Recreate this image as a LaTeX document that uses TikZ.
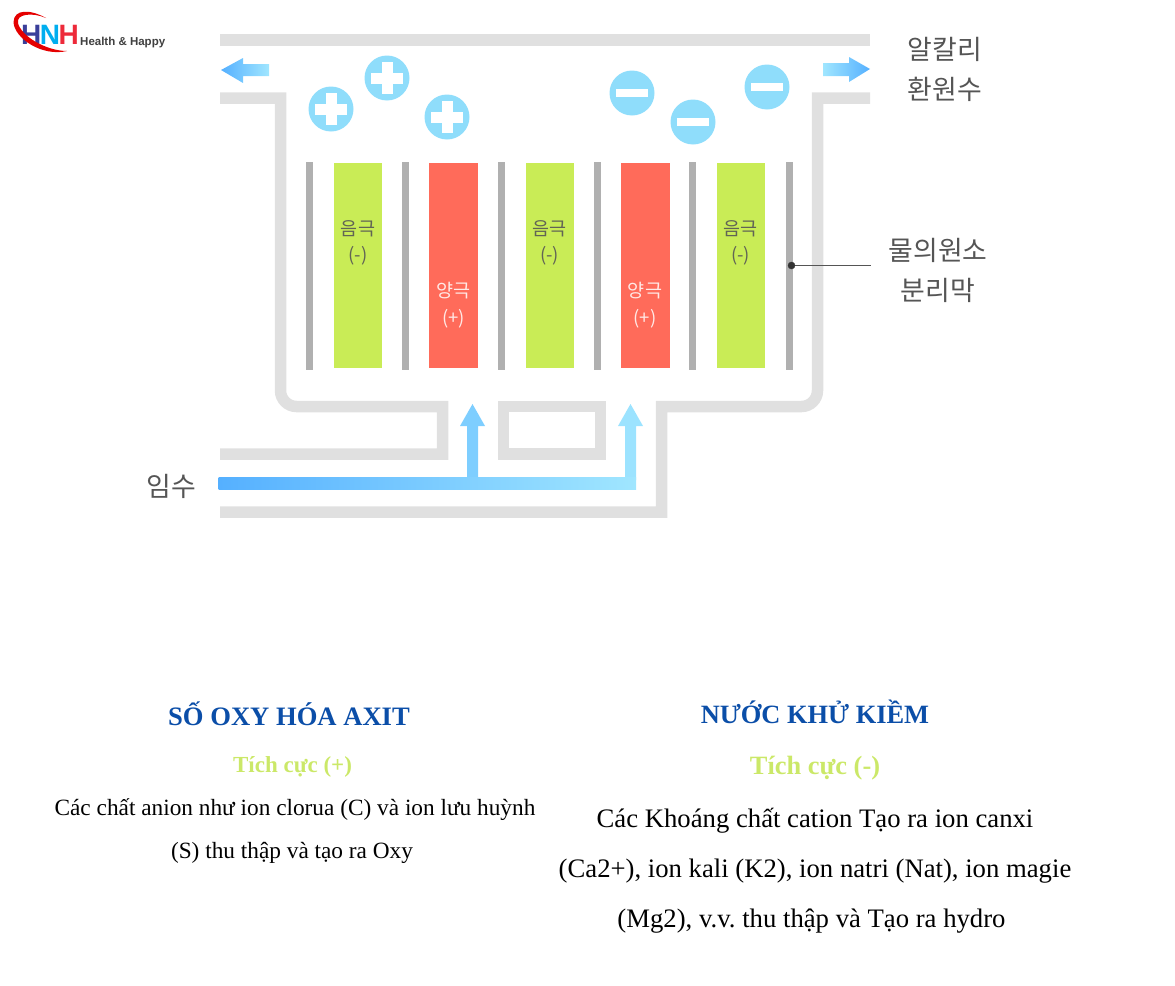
\documentclass[tikz,border=0pt]{standalone}
\usepackage{fontspec}
\setmainfont{Liberation Serif}
\newfontfamily\hangul{Noto Sans CJK KR}
\newfontfamily\logofont{Liberation Sans}
\definecolor{wallgray}{HTML}{E0E0E0}
\definecolor{membgray}{HTML}{B0B0B0}
\definecolor{cathgreen}{HTML}{C9EC56}
\definecolor{anodered}{HTML}{FF6B5A}
\definecolor{ionblue}{HTML}{8FDDFB}
\definecolor{flowdark}{HTML}{55B0FF}
\definecolor{flowlight}{HTML}{A0E6FF}
\definecolor{titleblue}{HTML}{0B4EA8}
\definecolor{chargegreen}{HTML}{CBE868}
\definecolor{labelgray}{HTML}{555555}
\tikzset{
  wall/.style={draw=wallgray, line width=11.5pt},
  membrane/.style={fill=membgray, minimum width=7pt, minimum height=208pt, inner sep=0pt},
  cathode/.style={fill=cathgreen, minimum width=48pt, minimum height=205pt, inner sep=0pt},
  anode/.style={fill=anodered, minimum width=49pt, minimum height=205pt, inner sep=0pt},
  ionplus/.style={circle, fill=ionblue, minimum size=45pt, inner sep=0pt, path picture={
    \fill[white] ([xshift=-16pt,yshift=-5.5pt]path picture bounding box.center) rectangle ([xshift=16pt,yshift=5.5pt]path picture bounding box.center);
    \fill[white] ([xshift=-5.5pt,yshift=-16pt]path picture bounding box.center) rectangle ([xshift=5.5pt,yshift=16pt]path picture bounding box.center);}},
  ionminus/.style={circle, fill=ionblue, minimum size=45pt, inner sep=0pt, path picture={
    \fill[white] ([xshift=-16pt,yshift=-4pt]path picture bounding box.center) rectangle ([xshift=16pt,yshift=4pt]path picture bounding box.center);}},
  sidelabel/.style={font=\hangul\fontsize{26.9}{26.9}\selectfont, text=labelgray, inner sep=0pt},
  polelabel/.style={font=\hangul\fontsize{18.5}{18.5}\selectfont, inner sep=0pt},
  headline/.style={font=\bfseries\fontsize{#1}{#1}\selectfont, text=titleblue, inner sep=0pt, anchor=base},
  chargeline/.style={font=\bfseries\fontsize{#1}{#1}\selectfont, text=chargegreen, inner sep=0pt, anchor=base},
  bodyline/.style={font=\frenchspacing\fontsize{#1}{#1}\selectfont, text=black, inner sep=0pt, anchor=base}
}

\begin{document}
\begin{tikzpicture}[x=1pt, y=-1pt]
    \useasboundingbox (0,0) rectangle (1175,985);

    % Thành bể
    \draw[wall] (220,40) -- (870,40);
    \draw[wall] (220,98) -- (280.5,98) [rounded corners=16pt] -- (280.5,406.5) [sharp corners] -- (442.5,406.5) -- (442.5,454) -- (220,454);
    \draw[wall] (870,98) -- (817.5,98) [rounded corners=16pt] -- (817.5,406.5) [sharp corners] -- (661.5,406.5) -- (661.5,512) -- (220,512);
    \draw[wall] (503.5,406.5) rectangle (600.5,454);

    % Màng ngăn
    \node[membrane] (memb1) at (309.5,266) {};
    \node[membrane] (memb2) at (405.5,266) {};
    \node[membrane] (memb3) at (501.5,266) {};
    \node[membrane] (memb4) at (597.5,266) {};
    \node[membrane] (memb5) at (692.5,266) {};
    \node[membrane] (memb6) at (789,266) {};

    % Điện cực
    \node[cathode] (cath1) at (358,265.5) {};
    \node[anode] (anod1) at (453.5,265.5) {};
    \node[cathode] (cath2) at (549.5,265.5) {};
    \node[anode] (anod2) at (645,265.5) {};
    \node[cathode] (cath3) at (740.5,265.5) {};

    % Nhãn điện cực
    \node[polelabel, text=labelgray!90!cathgreen] (cathtext1) at (358,229) {음극};
    \node[polelabel, text=labelgray!90!cathgreen] (cathsign1) at (358,256) {(-)};
    \node[polelabel, text=labelgray!90!cathgreen] (cathtext2) at (549.5,229) {음극};
    \node[polelabel, text=labelgray!90!cathgreen] (cathsign2) at (549.5,256) {(-)};
    \node[polelabel, text=labelgray!90!cathgreen] (cathtext3) at (740.5,229) {음극};
    \node[polelabel, text=labelgray!90!cathgreen] (cathsign3) at (740.5,256) {(-)};
    \node[polelabel, text=white!85!anodered] (anodtext1) at (453.5,291) {양극};
    \node[polelabel, text=white!85!anodered] (anodsign1) at (453.5,319) {(+)};
    \node[polelabel, text=white!85!anodered] (anodtext2) at (645,291) {양극};
    \node[polelabel, text=white!85!anodered] (anodsign2) at (645,319) {(+)};

    % Ion
    \node[ionplus] (plus1) at (331,109) {};
    \node[ionplus] (plus2) at (387,78) {};
    \node[ionplus] (plus3) at (447,117) {};
    \node[ionminus] (minus1) at (632,93) {};
    \node[ionminus] (minus2) at (693,122) {};
    \node[ionminus] (minus3) at (767,87) {};

    % Mũi tên dòng nước
    \shade[left color=flowdark, right color=flowlight] (221,70) -- (243,58) -- (243,64) -- (269,64) -- (269,76) -- (243,76) -- (243,83) -- cycle;
    \shade[left color=flowlight, right color=flowdark] (870,69) -- (849,57) -- (849,63) -- (823,63) -- (823,76) -- (849,76) -- (849,82) -- cycle;
    \fill[flowdark!45!flowlight] (467,480) -- (467,426) -- (460,426) -- (472.5,404) -- (485,426) -- (478,426) -- (478,480) -- cycle;
    \fill[flowlight!95!flowdark] (625,480) -- (625,426) -- (618,426) -- (630.5,404) -- (643,426) -- (636,426) -- (636,480) -- cycle;
    \shade[left color=flowdark, right color=flowlight] (218.5,477) rectangle (636,489);

    % Nhãn bên
    \node[sidelabel] (outlabel1) at (945,49.5) {알칼리};
    \node[sidelabel] (outlabel2) at (945,89.5) {환원수};
    \node[sidelabel] (memblabel1) at (938,250) {물의원소};
    \node[sidelabel] (memblabel2) at (938,290) {분리막};
    \node[sidelabel] (inlabel) at (171.5,486) {임수};

    % Đường dẫn màng
    \coordinate (leaderend) at (871,265.5);
    \coordinate (leaderdot) at (791.5,265.5);
    \draw[labelgray, line width=0.7pt] (leaderdot) -- (leaderend);
    \filldraw[black!80] (leaderdot) circle (3.5pt);

    % Logo
    \node[font=\logofont\bfseries\fontsize{28}{28}\selectfont, inner sep=0pt, anchor=base west] (logoname) at (21,44.5) {{\color[HTML]{3A3F9A}H}\kern-1.5pt{\color[HTML]{00AEEF}N}\kern-1.5pt{\color[HTML]{ED2A3A}H}};
    \node[font=\logofont\bfseries\fontsize{11.5}{11.5}\selectfont, text=black!75, inner sep=0pt, anchor=base west] (logotext) at (80,45) {Health \& Happy};
    \fill[red!90!black] (46,18) .. controls (30,9) and (14,9) .. (13.5,22) .. controls (14,38) and (42,57) .. (67,51) .. controls (46,51) and (21,36) .. (18,23) .. controls (16,14) and (32,12) .. (46,18);

    % Phần chữ bên trái
    \node[headline=26.6] (lefthead) at (289,725.5) {SỐ OXY HÓA AXIT};
    \node[chargeline=23] (leftcharge) at (292.5,772) {Tích cực (+)};
    \node[bodyline=23.3] (leftbody1) at (295,815.5) {Các chất anion như ion clorua (C) và ion lưu huỳnh};
    \node[bodyline=23.3] (leftbody2) at (292,858.5) {(S) thu thập và tạo ra Oxy};

    % Phần chữ bên phải
    \node[headline=26.4] (righthead) at (815,723.5) {NƯỚC KHỬ KIỀM};
    \node[chargeline=26.4] (rightcharge) at (815,774) {Tích cực (-)};
    \node[bodyline=26.7] (rightbody1) at (815,827) {Các Khoáng chất cation Tạo ra ion canxi};
    \node[bodyline=26.7] (rightbody2) at (815,877) {(Ca2+), ion kali (K2), ion natri (Nat), ion magie};
    \node[bodyline=26.7] (rightbody3) at (811.5,927) {(Mg2), v.v. thu thập và Tạo ra hydro};
\end{tikzpicture}
\end{document}
